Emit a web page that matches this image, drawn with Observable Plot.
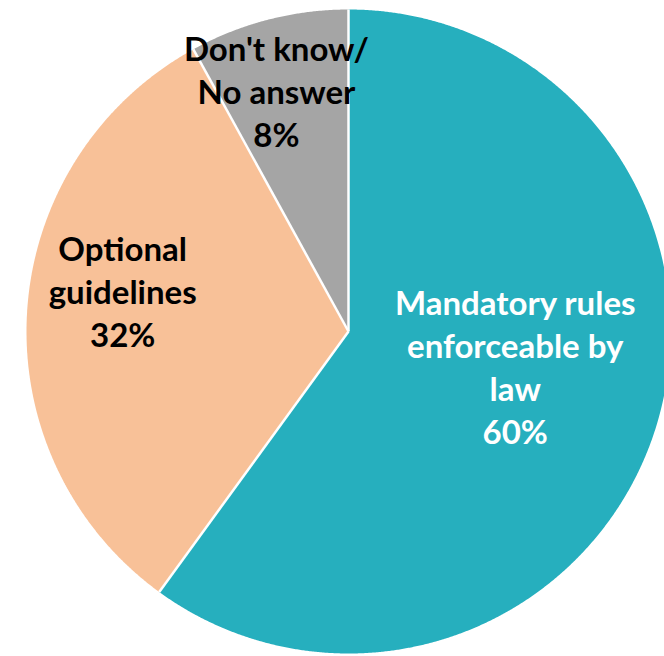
<!DOCTYPE html>
<html>
<head>
<meta charset="utf-8">
<script src="https://cdn.jsdelivr.net/npm/d3@7"></script>
<script src="https://cdn.jsdelivr.net/npm/@observablehq/plot@0.6"></script>
<style>
  html, body { margin: 0; padding: 0; background: #fff; overflow: hidden; }
  #chart svg { display: block; overflow: hidden; }
</style>
</head>
<body>
<div id="chart"></div>
<script>
// ---- data ----
const categories = ["Mandatory rules enforceable by law", "Optional guidelines", "Don't know/ No answer"];
const values = [60, 32, 8];
const labelText = [
  "Mandatory rules\nenforceable by\nlaw\n60%",
  "Optional\nguidelines\n32%",
  "Don't know/\nNo answer\n8%"
];
// ---- styles ----
const palette = ["#26AFBE", "#F8C198", "#A5A5A5"];
const labelColors = ["#ffffff", "#000000", "#000000"];

const rows = categories.map((c, i) => ({category: c, value: values[i], color: palette[i], label: labelText[i], labelColor: labelColors[i]}));
const arcs = d3.pie().sort(null).value(d => d.value)(rows);

// polygon outline points for each slice (angle 0 at 12 o'clock, clockwise)
const pts = [];
arcs.forEach(a => {
  const key = a.data.category, color = a.data.color;
  pts.push({key, color, x: 0, y: 0});
  const n = Math.max(2, Math.ceil((a.endAngle - a.startAngle) / 0.004));
  for (let k = 0; k <= n; k++) {
    const t = a.startAngle + (a.endAngle - a.startAngle) * k / n;
    pts.push({key, color, x: Math.sin(t), y: Math.cos(t)});
  }
  pts.push({key, color, x: 0, y: 0});
});

// separators at each slice start
const seps = arcs.map(a => ({x1: 0, y1: 0, x2: Math.sin(a.startAngle), y2: Math.cos(a.startAngle)}));

// label anchor points at a fraction of the radius along the mid-angle
const labelR = 0.6;
const labels = arcs.map(a => {
  const m = (a.startAngle + a.endAngle) / 2;
  return {x: labelR * Math.sin(m), y: labelR * Math.cos(m), label: a.data.label, color: a.data.labelColor, category: a.data.category};
});

const fontSize = 33;
const textOpts = (i, dx, dy) => Plot.text(labels.filter((d, j) => j === i), {
  x: "x", y: "y", text: "label", fill: "color",
  fontSize, fontWeight: "bold", lineHeight: 43 / fontSize,
  textAnchor: "middle", lineAnchor: "middle", dx, dy
});

const chart = Plot.plot({
  width: 664,
  height: 656,
  margin: 0,
  style: {fontFamily: "Lato, 'Open Sans', sans-serif", background: "#fff", overflow: "hidden"},
  x: {domain: [-1, 1], range: [26, 670], axis: null},
  y: {domain: [-1, 1], range: [653, 9], axis: null},
  color: {type: "identity"},
  marks: [
    Plot.line(pts, {x: "x", y: "y", z: "key", fill: "color", stroke: null, curve: "linear"}),
    Plot.link(seps, {x1: "x1", y1: "y1", x2: "x2", y2: "y2", stroke: "#ffffff", strokeWidth: 2.5}),
    textOpts(0, -17, -25),
    textOpts(1, -33, -29),
    textOpts(2, -24, -54)
  ]
});
document.getElementById("chart").appendChild(chart);
</script>
</body>
</html>
